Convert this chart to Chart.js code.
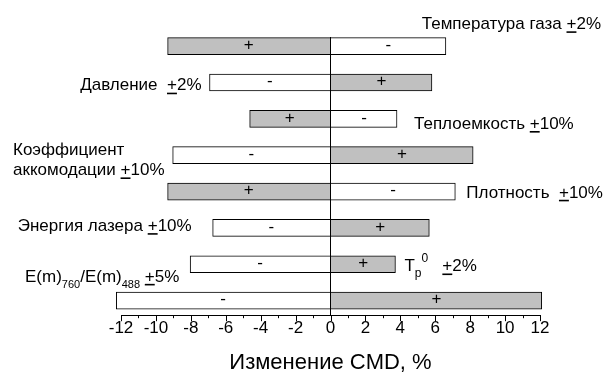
<!DOCTYPE html>
<html>
<head>
<meta charset="utf-8">
<script src="https://cdn.jsdelivr.net/npm/chart.js@4.4.1/dist/chart.umd.min.js"></script>
<style>
  html, body { margin: 0; padding: 0; background: #fff; }
</style>
</head>
<body>
<canvas id="tornadoChart" width="609" height="376"></canvas>
<script>
// Parameters (top to bottom) and their variation
const categories = ["Температура газа", "Давление", "Теплоемкость", "Коэффициент аккомодации",
  "Плотность", "Энергия лазера", "Tp0", "E(m)760/E(m)488"];
const variations = ["2%", "2%", "10%", "10%", "10%", "10%", "2%", "5%"];

// Change of CMD, % (left and right part of every bar)
const leftValues = [-9.33, -6.93, -4.63, -9.04, -9.33, -6.75, -8.04, -12.27];
const rightValues = [6.61, 5.81, 3.81, 8.17, 7.15, 5.66, 3.72, 12.1];

// Sign of the parameter change that gives that part of the bar
const leftSigns = ["+", "-", "+", "-", "+", "-", "-", "-"];
const rightSigns = ["-", "+", "-", "+", "-", "+", "+", "+"];

// x axis
const xMin = -12;
const xMax = 12;
const xLabelStep = 2;

const GRAY = "#c0c0c0";
const FONT = '"Liberation Sans", Arial, sans-serif';
const TEXT_SIZE = 17;

const toPoints = (vals) => vals.map((v, i) => ({ x: v, y: i + 1 }));
const signColor = (signs) => signs.map((s) => (s === "+" ? GRAY : "#ffffff"));

// draws a line of text made of several parts (sub/superscripts, underlined "+")
function drawRich(ctx, parts, x, y, align) {
  let total = 0;
  parts.forEach((p) => {
    ctx.font = (p.size || TEXT_SIZE) + "px " + FONT;
    p.w = ctx.measureText(p.t).width;
    total += p.w;
  });
  let cx = align === "right" ? x - total : x;
  parts.forEach((p) => {
    ctx.font = (p.size || TEXT_SIZE) + "px " + FONT;
    ctx.fillText(p.t, cx, y + (p.dy || 0));
    if (p.under) {
      ctx.beginPath();
      ctx.lineWidth = 1.6;
      ctx.moveTo(cx, y + 3);
      ctx.lineTo(cx + p.w, y + 3);
      ctx.stroke();
    }
    cx += p.w;
  });
}

const pm = (v) => [{ t: "+", under: true }, { t: v }];

// "+" / "-" in the middle of each bar part
const signsPlugin = {
  id: "signs",
  afterDatasetsDraw(chart) {
    const ctx = chart.ctx;
    ctx.save();
    ctx.fillStyle = "#000";
    ctx.font = "17px " + FONT;
    ctx.textAlign = "center";
    ctx.textBaseline = "middle";
    [leftSigns, rightSigns].forEach((signs, d) => {
      chart.getDatasetMeta(d).data.forEach((bar, i) => {
        ctx.fillText(signs[i], (bar.x + bar.base) / 2, bar.y - 1);
      });
    });
    ctx.restore();
  }
};

// parameter names beside the bars
const namesPlugin = {
  id: "names",
  afterDraw(chart) {
    const ctx = chart.ctx;
    const xs = chart.scales.x;
    const ys = chart.scales.y;
    const row = (i) => ys.getPixelForValue(i + 1);
    const lEnd = (i) => xs.getPixelForValue(leftValues[i]);
    const rEnd = (i) => xs.getPixelForValue(rightValues[i]);
    ctx.save();
    ctx.fillStyle = "#000";
    ctx.strokeStyle = "#000";
    ctx.textAlign = "left";
    ctx.textBaseline = "alphabetic";

    drawRich(ctx, [{ t: categories[0] + " " }, ...pm(variations[0])], chart.width - 8, row(0) - 17, "right");
    drawRich(ctx, [{ t: categories[1] + "  " }, ...pm(variations[1])], lEnd(1) - 8, row(1) + 8, "right");
    drawRich(ctx, [{ t: categories[2] + " " }, ...pm(variations[2])], rEnd(2) + 17, row(2) + 10, "left");
    const [w1, w2] = categories[3].split(" ");
    drawRich(ctx, [{ t: w1 }], 13, row(3), "left");
    drawRich(ctx, [{ t: w2 + " " }, ...pm(variations[3])], 13, row(3) + 20, "left");
    drawRich(ctx, [{ t: categories[4] + "  " }, ...pm(variations[4])], rEnd(4) + 11, row(4) + 6, "left");
    drawRich(ctx, [{ t: categories[5] + " " }, ...pm(variations[5])], lEnd(5) - 21, row(5) + 3, "right");
    drawRich(ctx, [{ t: "T" }, { t: "p", size: 12, dy: 6 }, { t: "0", size: 12, dy: -9 }, { t: "   " }, ...pm(variations[6])],
      rEnd(6) + 9, row(6) + 7, "left");
    drawRich(ctx, [{ t: "E(m)" }, { t: "760", size: 11, dy: 6 }, { t: "/E(m)" }, { t: "488", size: 11, dy: 6 }, { t: " " }, ...pm(variations[7])],
      25, row(7) - 19, "left");
    ctx.restore();
  }
};

// major (labelled) and minor tick marks under the axis
const tickMarksPlugin = {
  id: "tickMarks",
  afterDraw(chart) {
    const ctx = chart.ctx;
    const xs = chart.scales.x;
    ctx.save();
    ctx.strokeStyle = "#000";
    ctx.lineWidth = 1;
    xs.ticks.forEach((t) => {
      const px = Math.round(xs.getPixelForValue(t.value)) + 0.5;
      const len = t.value % xLabelStep === 0 ? 6 : 3;
      ctx.beginPath();
      ctx.moveTo(px, xs.top);
      ctx.lineTo(px, xs.top + len);
      ctx.stroke();
    });
    ctx.restore();
  }
};

const ctx = document.getElementById("tornadoChart").getContext("2d");
new Chart(ctx, {
  type: "bar",
  data: {
    datasets: [
      {
        label: "left",
        data: toPoints(leftValues),
        backgroundColor: signColor(leftSigns),
        borderColor: "#000",
        borderWidth: 1,
        borderSkipped: "start",
        clip: false
      },
      {
        label: "right",
        data: toPoints(rightValues),
        backgroundColor: signColor(rightSigns),
        borderColor: "#000",
        borderWidth: 1,
        borderSkipped: "start",
        clip: false
      }
    ]
  },
  options: {
    indexAxis: "y",
    responsive: false,
    animation: false,
    barThickness: 17,
    layout: { padding: { left: 121, right: 69, top: 37, bottom: 0 } },
    plugins: {
      legend: { display: false },
      tooltip: { enabled: false }
    },
    scales: {
      x: {
        stacked: true,
        min: xMin,
        max: xMax,
        z: 1,
        border: { display: true, color: "#000", width: 1 },
        grid: {
          drawTicks: false,
          color: (c) => (c.tick && c.tick.value === 0 ? "#000" : "rgba(0,0,0,0)")
        },
        ticks: {
          stepSize: 1,
          autoSkip: false,
          maxRotation: 0,
          padding: 3,
          color: "#000",
          font: { family: FONT, size: 17 },
          callback: (v) => (v % xLabelStep === 0 ? String(v) : "")
        },
        title: {
          display: true,
          text: "Изменение CMD, %",
          color: "#000",
          font: { family: FONT, size: 22 },
          padding: { top: 8, bottom: 0 }
        }
      },
      y: {
        type: "linear",
        stacked: true,
        reverse: true,
        offset: false,
        min: 0.75,
        max: 8.4,
        display: false
      }
    }
  },
  plugins: [signsPlugin, namesPlugin, tickMarksPlugin]
});
</script>
</body>
</html>
